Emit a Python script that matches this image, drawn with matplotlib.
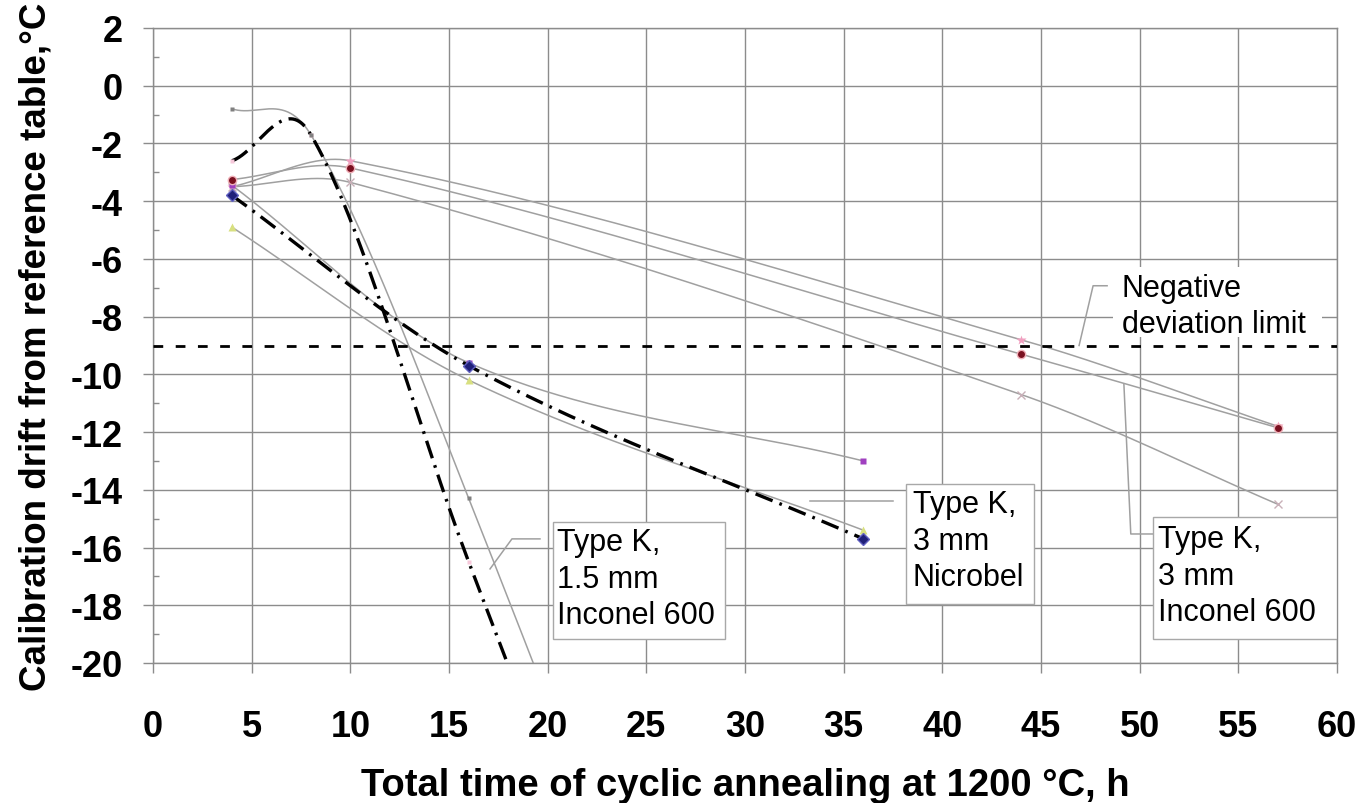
import numpy as np
import matplotlib.pyplot as plt
from matplotlib.patches import Rectangle

plt.rcParams['font.family'] = ['Liberation Sans', 'DejaVu Sans']
plt.rcParams['axes.unicode_minus'] = False

# Type K, 1.5 mm, Inconel 600 sheath
t_15 = [4, 8, 16, 36]
drift_15_a = [-2.6, -1.7, -16.5, -52.0]
drift_15_b = [-0.8, -1.7, -14.3, -50.0]

# Type K, 3 mm, Inconel 600 sheath
t_3i = [4, 10, 44, 57]
drift_3i_a = [-3.25, -2.85, -9.3, -11.85]
drift_3i_b = [-3.5, -2.6, -8.8, -11.8]
drift_3i_c = [-3.5, -3.35, -10.7, -14.5]

# Type K, 3 mm, Nicrobel sheath
t_3n = [4, 16, 36]
drift_3n_a = [-3.8, -9.7, -15.7]
drift_3n_b = [-3.45, -9.6, -13.0]
drift_3n_c = [-4.9, -10.2, -15.4]

deviation_limit = -9

x_ticks = np.arange(0, 61, 5)
y_ticks = np.arange(-20, 3, 2)


def smooth(xs, ys, n=80):
    # cubic Hermite curve through the points (smoothed line as in the spreadsheet)
    xs = np.asarray(xs, float)
    ys = np.asarray(ys, float)
    m = np.empty_like(ys)
    m[0] = (ys[1] - ys[0]) / (xs[1] - xs[0])
    m[-1] = (ys[-1] - ys[-2]) / (xs[-1] - xs[-2])
    m[1:-1] = (ys[2:] - ys[:-2]) / (xs[2:] - xs[:-2])
    px, py = [], []
    t = np.linspace(0, 1, n)
    for i in range(len(xs) - 1):
        h = xs[i + 1] - xs[i]
        h00 = 2 * t**3 - 3 * t**2 + 1
        h10 = t**3 - 2 * t**2 + t
        h01 = -2 * t**3 + 3 * t**2
        h11 = t**3 - t**2
        px.append(xs[i] + h * t)
        py.append(h00 * ys[i] + h10 * h * m[i] + h01 * ys[i + 1] + h11 * h * m[i + 1])
    return np.concatenate(px), np.concatenate(py)


fig = plt.figure(figsize=(13.65, 8.04), dpi=100)
ax = fig.add_axes([153 / 1365, 1 - 664 / 804, 1184 / 1365, 635 / 804])

grey = '#8c8c8c'
thin = '#a0a0a0'

# thin curves
for xs, ys in [(t_15, drift_15_b), (t_3i, drift_3i_a), (t_3i, drift_3i_b),
               (t_3i, drift_3i_c), (t_3n, drift_3n_b), (t_3n, drift_3n_c)]:
    sx, sy = smooth(xs, ys)
    ax.plot(sx, sy, color=thin, lw=1.1, zorder=3)

# thick dash-dot curves
for xs, ys in [(t_15, drift_15_a), (t_3n, drift_3n_a)]:
    sx, sy = smooth(xs, ys)
    ax.plot(sx, sy, color='black', lw=2.4, dashes=(5.5, 2.2, 0.8, 2.2), zorder=4)

# markers
ax.plot(t_15, drift_15_a, 's', ms=3, color='#f6c8da', mec='none', zorder=5)
ax.plot(t_15, drift_15_b, 's', ms=3, color='#808080', mec='none', zorder=5)
ax.plot(t_3i, drift_3i_a, 'o', ms=6, color='#7a1020', mec='#f0b0b8', mew=1, zorder=6)
ax.plot(t_3i, drift_3i_b, '*', ms=7, color='#f0a0c0', mec='none', zorder=5)
ax.plot(t_3i, drift_3i_c, 'x', ms=6, color='#c8b0b8', mew=1, zorder=5)
ax.plot(t_3n, drift_3n_b, 's', ms=4.5, color='#a040c0', mec='none', zorder=5)
ax.plot(t_3n, drift_3n_c, '^', ms=6, color='#d8e080', mec='none', zorder=5)
ax.plot(t_3n, drift_3n_a, 'D', ms=6, color='#20207a', mec='#6060c0', zorder=6)

# negative deviation limit
ax.axhline(deviation_limit, color='black', lw=2.0, dashes=(3.5, 4.5), zorder=7)

ax.set_xlim(0, 60)
ax.set_ylim(-20, 2)
ax.set_xticks(x_ticks)
ax.set_yticks(y_ticks)
ax.set_yticks(np.arange(-19, 2, 2), minor=True)
ax.grid(True, color=grey, lw=1.0, zorder=0)
ax.set_axisbelow(True)
for s in ax.spines.values():
    s.set_color(grey)
    s.set_linewidth(1.0)
ax.tick_params(axis='both', which='major', direction='out', length=7, width=1.0,
               color=grey, labelsize=26)
ax.tick_params(axis='x', which='major', pad=26)
ax.tick_params(axis='y', which='major', pad=15)
ax.tick_params(axis='y', which='minor', direction='in', length=4, width=1.0, color=grey)
for lab in ax.get_xticklabels() + ax.get_yticklabels():
    lab.set_fontweight('bold')

ax.set_xlabel('Total time of cyclic annealing at 1200 °C, h', fontsize=27.5,
              fontweight='bold', labelpad=17)
ax.set_ylabel('Calibration drift from reference table,°C', fontsize=26.5,
              fontweight='bold', labelpad=12)

# callout boxes
box_kw = dict(facecolor='white', edgecolor='#a8a8a8', lw=1.0, zorder=8)
txt_kw = dict(fontsize=22, va='center', ha='left', linespacing=1.28, zorder=9)

ax.add_patch(Rectangle((50.68, -19.16), 9.32, 4.23, **box_kw))
ax.text(50.93, -16.98, 'Type K,\n3 mm\nInconel 600', **txt_kw)
ax.plot([49.2, 49.55, 50.68], [-10.33, -15.53, -15.53], color=thin, lw=1.1, zorder=7)

ax.add_patch(Rectangle((38.16, -17.95), 6.5, 4.15, **box_kw))
ax.text(38.5, -15.77, 'Type K,\n3 mm\nNicrobel', **txt_kw)
ax.plot([33.3, 37.5], [-14.38, -14.38], color=thin, lw=1.1, zorder=7)

ax.add_patch(Rectangle((20.27, -19.16), 8.7, 4.06, **box_kw))
ax.text(20.47, -17.08, 'Type K,\n1.5 mm\nInconel 600', **txt_kw)
ax.plot([17.08, 18.19, 19.61], [-16.74, -15.7, -15.7], color=thin, lw=1.1, zorder=7)

ax.add_patch(Rectangle((48.65, -8.7), 10.6, 2.43, facecolor='white',
                       edgecolor='none', zorder=8))
ax.text(49.1, -7.64, 'Negative\ndeviation limit', **txt_kw)
ax.plot([48.35, 47.64, 46.93], [-6.93, -6.93, -9.0], color=thin, lw=1.1, zorder=9)

fig.savefig('out.png', dpi=100)
